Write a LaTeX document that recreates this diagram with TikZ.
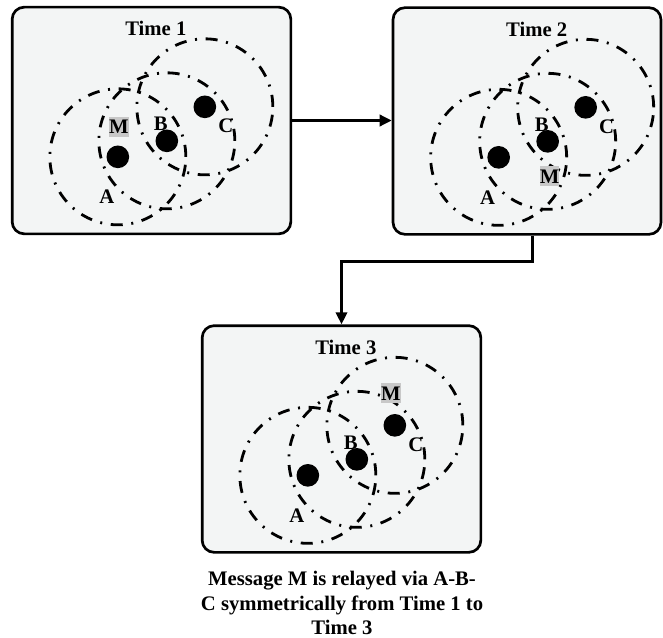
\documentclass[tikz,border=0pt]{standalone}
\usepackage{fontspec}
\setmainfont{Liberation Serif}
\usetikzlibrary{arrows.meta}
\definecolor{panelgray}{RGB}{243,245,245}
\definecolor{msggray}{RGB}{200,200,200}
\tikzset{
	panel/.style={draw,line width=2pt,rounded corners=9pt,fill=panelgray,minimum width=209pt,minimum height=170pt,inner sep=0pt},
	station/.style={circle,fill=black,minimum size=17pt,inner sep=0pt},
	coverage/.style={line width=2.1pt,dash pattern={on 9pt off 6.5pt on 1.5pt off 6.5pt}},
	lbl/.style={font=\fontsize{15.5}{18}\selectfont\bfseries,inner sep=0pt},
	msg/.style={lbl,fill=msggray,minimum width=14pt,minimum height=15pt},
	flow/.style={line width=2pt,-{Triangle[length=9pt,width=8.5pt]}},
	caption/.style={font=\fontsize{15.5}{18.4}\selectfont\bfseries,align=center}
}
\begin{document}
\begin{tikzpicture}[x=0.75pt,y=-0.75pt]
	\useasboundingbox (0,0) rectangle (663,638);
	\node[panel] (t1) at (151.5,120.5) {};
	\node[panel,minimum width=201pt] (t2) at (527,121) {};
	\node[panel] (t3) at (341.5,439) {};
	
	\foreach \t/\mx/\my/\n in {t1/108/121/1,t2/158/170/2,t3/190/69/3}{
		\begin{scope}[shift={(\t.north west)}]
			\coordinate (\t-ca) at (107,151);
			\coordinate (\t-cb) at (156,135);
			\coordinate (\t-cc) at (194,101);
			\draw[coverage] (\t-ca) circle (51pt);
			\draw[coverage] (\t-cb) circle (51pt);
			\draw[coverage] (\t-cc) circle (51pt);
			\node[station] (\t-a) at (\t-ca) {};
			\node[station] (\t-b) at (\t-cb) {};
			\node[station] (\t-c) at (\t-cc) {};
			\node[lbl] (\t-title) at (145,23) {Time \n};
			\node[lbl] (\t-la) at (96,191) {A};
			\node[lbl] (\t-lb) at (150,118) {B};
			\node[lbl] (\t-lc) at (215,120) {C};
			\node[msg] (\t-m) at (\mx,\my) {M};
		\end{scope}
	}
	
	\draw[flow] (t1.east) -- (t1.east -| t2.west);
	\draw[flow] ([xshift=4pt]t2.south) -- ++(0,26) -| (t3.north);
	
	\node[caption] (note) at (342,603) {Message M is relayed via A-B-\\C symmetrically from Time 1 to\\Time 3};
\end{tikzpicture}
\end{document}
